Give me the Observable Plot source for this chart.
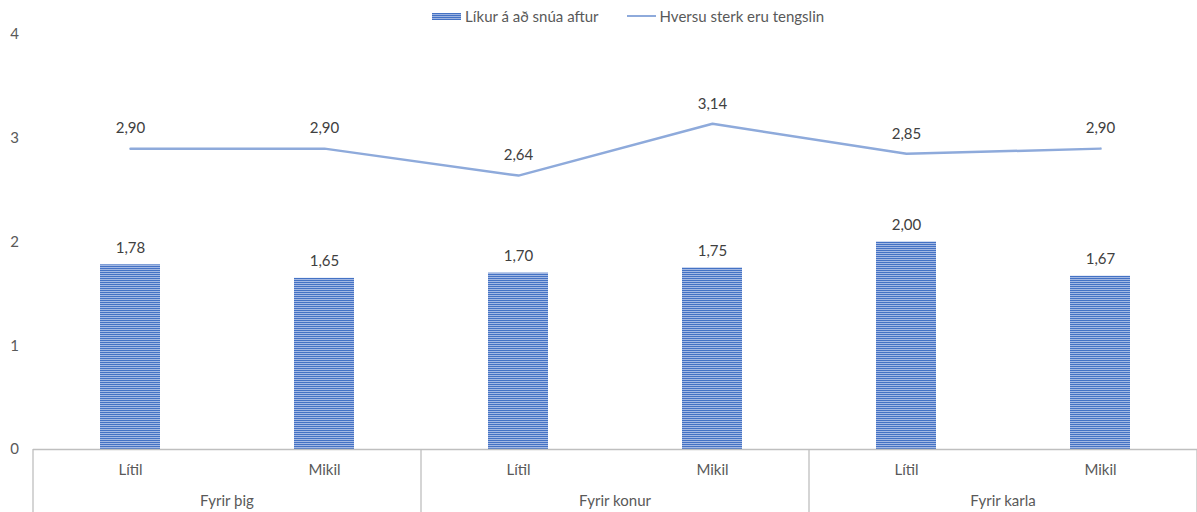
<!DOCTYPE html>
<html>
<head>
<meta charset="utf-8">
<script src="https://cdn.jsdelivr.net/npm/d3@7"></script>
<script src="https://cdn.jsdelivr.net/npm/@observablehq/plot@0.6"></script>
<style>
  html, body { margin: 0; padding: 0; background: #fff; }
  #wrap { position: relative; width: 1197px; height: 512px; font-family: Lato, "Open Sans", sans-serif; }
  #legend { position: absolute; left: 432px; top: 7px; display: flex; align-items: center; font-size: 15px; color: #595959; z-index: 2; }
  .sw-bar { width: 29px; height: 7px; margin-right: 4px;
    background: repeating-linear-gradient(to bottom, #4472c4 0px, #4472c4 1px, #9db3e0 1px, #9db3e0 2px); }
  .sw-line { width: 29px; height: 2.5px; background: #8eaadb; margin-right: 4px; margin-left: 28px; }
  svg { overflow: visible; }
</style>
</head>
<body>
<div id="wrap">
  <div id="legend">
    <span class="sw-bar"></span><span id="lab1"></span>
    <span class="sw-line"></span><span id="lab2"></span>
  </div>
  <div id="chart"></div>
</div>
<script>
const groups = ["Fyrir þig", "Fyrir konur", "Fyrir karla"];
const levels = ["Lítil", "Mikil"];
const likurValues = [1.78, 1.65, 1.70, 1.75, 2.00, 1.67];
const tengslValues = [2.90, 2.90, 2.64, 3.14, 2.85, 2.90];
const seriesNames = ["Líkur á að snúa aftur", "Hversu sterk eru tengslin"];
const yTicks = [0, 1, 2, 3, 4];

document.getElementById("lab1").textContent = seriesNames[0];
document.getElementById("lab2").textContent = seriesNames[1];

const keys = [];
groups.forEach(g => levels.forEach(l => keys.push(g + "|" + l)));
const rows = keys.map((k, i) => ({key: k, group: k.split("|")[0], level: k.split("|")[1], likur: likurValues[i], tengsl: tengslValues[i]}));

const fmt = v => v.toFixed(2).replace(".", ",");

// custom mark: group boxes (separators) and group labels under the category labels
function groupAxis(index, scales, values, dims) {
  const x = scales.x;
  const bw = typeof x.bandwidth === "function" ? x.bandwidth() : (x.bandwidth || 0);
  const step = x(keys[1]) - x(keys[0]);
  const y0 = dims.height - dims.marginBottom;
  const g = d3.create("svg:g");
  const bounds = [];
  groups.forEach((grp, gi) => {
    const first = keys[gi * 2], last = keys[gi * 2 + 1];
    const left = x(first) + bw / 2 - step / 2;
    const right = x(last) + bw / 2 + step / 2;
    bounds.push(left);
    if (gi === groups.length - 1) bounds.push(right);
    g.append("text")
      .attr("x", (left + right) / 2)
      .attr("y", y0 + 57)
      .attr("text-anchor", "middle")
      .attr("fill", "#595959")
      .attr("font-size", 15)
      .text(grp);
  });
  bounds.forEach(b => {
    g.append("line")
      .attr("x1", b).attr("x2", b)
      .attr("y1", y0).attr("y2", dims.height)
      .attr("stroke", "#bfbfbf").attr("stroke-width", 1.3);
  });
  return g.node();
}

const plot = Plot.plot({
  width: 1197,
  height: 512,
  marginTop: 34,
  marginBottom: 63,
  marginLeft: 33,
  marginRight: 0,
  style: {fontFamily: "Lato, 'Open Sans', sans-serif", fontSize: "15px", color: "#595959", background: "transparent"},
  x: {domain: keys, paddingInner: 0.69, paddingOuter: 0.345, label: null},
  y: {domain: [0, 4], ticks: yTicks, label: null},
  marks: [
    Plot.axisY({ticks: yTicks, tickFormat: d3.format("d"), tickSize: 0, tickPadding: 0, dx: -19, textAnchor: "middle", fill: "#595959", fontSize: 15, label: null}),
    Plot.axisX({tickSize: 0, tickPadding: 15, tickFormat: k => k.split("|")[1], fill: "#595959", fontSize: 15, label: null}),
    Plot.barY(rows, {x: "key", y: "likur", fill: "url(#stripes)"}),
    Plot.ruleY([0], {stroke: "#bfbfbf", strokeWidth: 1.3}),
    Plot.lineY(rows, {x: "key", y: "tengsl", stroke: "#8eaadb", strokeWidth: 2.5}),
    Plot.text(rows, {x: "key", y: "likur", text: d => fmt(d.likur), dy: -17, fill: "#404040", fontSize: 15}),
    Plot.text(rows, {x: "key", y: "tengsl", text: d => fmt(d.tengsl), dy: -20, fill: "#404040", fontSize: 15}),
    groupAxis
  ]
});

// stripe pattern for bars
const defs = d3.select(plot).insert("defs", ":first-child");
const pat = defs.append("pattern").attr("id", "stripes").attr("patternUnits", "userSpaceOnUse")
  .attr("width", 4).attr("height", 2);
pat.append("rect").attr("width", 4).attr("height", 1).attr("fill", "#4472c4");
pat.append("rect").attr("y", 1).attr("width", 4).attr("height", 1).attr("fill", "#a3b8e3");

document.getElementById("chart").appendChild(plot);
</script>
</body>
</html>
